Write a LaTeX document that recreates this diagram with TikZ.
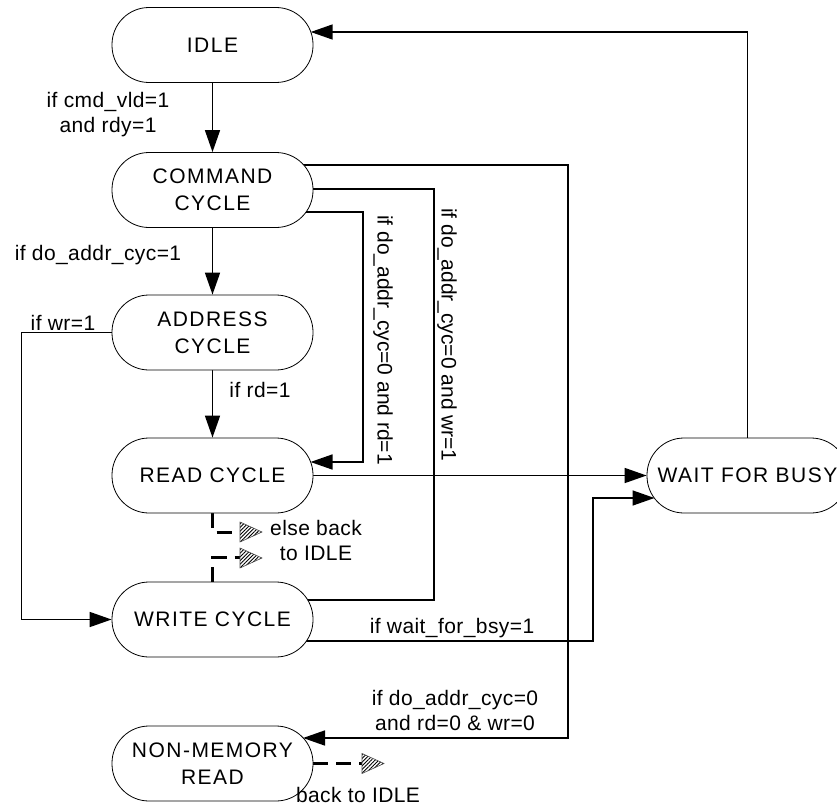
\documentclass[tikz,border=0pt]{standalone}
\usepackage{fontspec}
\setmainfont{Liberation Sans}
\newfontfamily\nodefont[LetterSpace=7]{Liberation Sans}
\newfontfamily\lblfont[LetterSpace=2]{Liberation Sans}
\usetikzlibrary{arrows.meta,backgrounds,patterns.meta,calc}
\begin{document}
\begin{tikzpicture}[x=1pt,y=-1pt,
  state/.style={rectangle, rounded corners=37pt, draw, line width=0.8pt, fill=white,
    minimum width=201pt, minimum height=75pt, inner sep=0pt, align=center,
    font=\nodefont\fontsize{21}{27}\selectfont},
  lbl/.style={inner sep=0pt, align=center, font=\lblfont\fontsize{21}{25}\selectfont},
  vlbl/.style={inner sep=0pt, rotate=-90, font=\fontsize{21}{25}\selectfont},
  conn/.style={line width=1.6pt},
  arr/.style={conn, -{Triangle[length=22pt,width=15pt]}},
  dsh/.style={line width=3pt, dash pattern=on 15pt off 8pt},
  hatch/.style={draw=black!70, line width=0.6pt,
    pattern={Lines[angle=45,distance=2.6pt,line width=0.9pt]}}]
\useasboundingbox (0,0) rectangle (837,808);

% states
\node[state] (idle)   at (212.5,45)    {IDLE};
\node[state] (cmd)    at (212.5,190)   {COMMAND\\CYCLE};
\node[state] (addr)   at (212.5,332.5) {ADDRESS\\CYCLE};
\node[state] (read)   at (212.5,475.5) {READ CYCLE};
\node[state] (write)  at (212.5,619.5) {WRITE CYCLE};
\node[state] (nonmem) at (212.5,763.5) {NON-MEMORY\\READ};
\node[state] (wait)   at (747.5,475.5) {WAIT FOR BUSY};

% labels
\node[lbl] (lcmd)  at (108,115) {if cmd\_vld=1\\and rdy=1};
\node[lbl] (ldo1)  at (98,255)  {if do\_addr\_cyc=1};
\node[lbl] (lwr)   at (63,323)  {if wr=1};
\node[lbl] (lrd)   at (260,390) {if rd=1};
\node[lbl] (lelse) at (316,540) {else back\\to IDLE};
\node[vlbl] (lv1) at (383,340) {if do\_addr\_cyc=0 and rd=1};
\node[vlbl] (lv2) at (447,335) {if do\_addr\_cyc=0 and wr=1};
\node[lbl] (lwait) at (452,628) {if wait\_for\_bsy=1};
\node[lbl] (lnon)  at (455,710) {if do\_addr\_cyc=0\\and rd=0 \& wr=0};
\node[lbl] (lback) at (358,795) {back to IDLE};

\begin{scope}[on background layer]
  \draw[arr] (idle) -- (cmd);
  \draw[arr] (cmd) -- (addr);
  \draw[arr] (addr) -- (read);
  \draw[arr] ($(cmd.center)+(0,-25)$) -| (568,738) -- ($(nonmem.center)+(90.5,-25.5)$);
  \draw[conn] ($(cmd.center)+(0,-1)$) -| (434,600) -- ($(write.center)+(0,-19.5)$);
  \draw[arr] ($(cmd.center)+(0,22)$) -| (363,462) -- ($(read.center)+(98,-13.5)$);
  \draw[arr] (addr.west) -- ++(-90,0) |- (write.west);
  \draw[arr] (read.east) -- (wait.west);
  \draw[arr] ($(write.center)+(0,21.5)$) -| (593,498) -- ($(wait.center)+(-93,22.5)$);
  \draw[arr] (wait.north) |- ($(idle.center)+(98.2,-13)$);
  \draw[dsh] (read.south) -- ++(0,19) -- ++(27,0);
  \draw[dsh] (write.north) -- ++(0,-24) -- ++(27,0);
  \draw[dsh] (nonmem.east) -- ++(49,0);
\end{scope}

% hatched open arrow heads of the dashed returns
\draw[hatch] (240,522) -- (262,532) -- (240,542) -- cycle;
\draw[hatch] (240,548) -- (262,558) -- (240,568) -- cycle;
\draw[hatch] (362,753.5) -- (384,763.5) -- (362,773.5) -- cycle;
\end{tikzpicture}
\end{document}
